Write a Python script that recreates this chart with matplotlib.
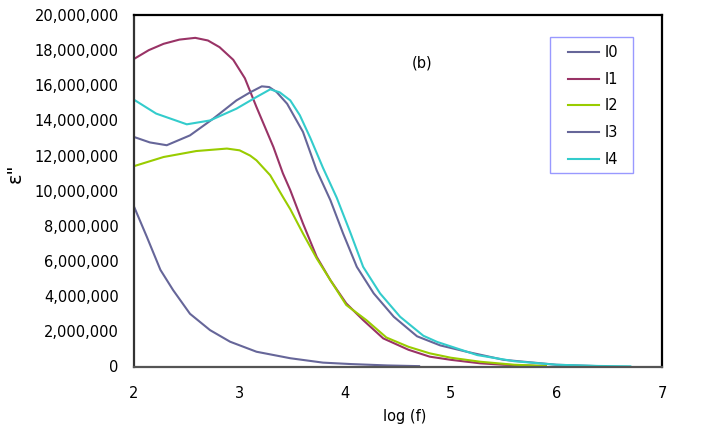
import matplotlib
matplotlib.use("Agg")
import matplotlib.pyplot as plt
from matplotlib.patches import Rectangle
from matplotlib.ticker import FuncFormatter

plt.rcParams['font.family'] = ['DejaVu Sans']

# values, y in millions
x_l0 = [2.0, 2.12, 2.25, 2.37, 2.53, 2.72, 2.91, 3.16, 3.48, 3.79, 4.05, 4.4, 4.7]
y_l0 = [9.1, 7.4, 5.5, 4.35, 3.0, 2.07, 1.41, 0.84, 0.47, 0.22, 0.14, 0.06, 0.02]

x_l1 = [2.0, 2.14, 2.28, 2.43, 2.58, 2.7, 2.81, 2.94, 3.05, 3.16, 3.32, 3.41, 3.48, 3.6,
        3.73, 3.86, 4.01, 4.17, 4.36, 4.6, 4.8, 5.0, 5.28, 5.5, 5.9]
y_l1 = [17.5, 18.0, 18.36, 18.6, 18.7, 18.55, 18.17, 17.45, 16.4, 14.76, 12.49, 10.99, 10.03, 8.14,
        6.24, 4.91, 3.59, 2.64, 1.6, 0.95, 0.56, 0.38, 0.18, 0.1, 0.02]

x_l2 = [2.0, 2.28, 2.59, 2.88, 3.0, 3.1, 3.16, 3.29, 3.41, 3.48, 3.6, 3.73, 3.86, 4.01, 4.2,
        4.39, 4.6, 4.8, 5.0, 5.28, 5.6, 5.9]
y_l2 = [11.4, 11.92, 12.26, 12.4, 12.3, 12.0, 11.73, 10.88, 9.65, 8.95, 7.57, 6.15, 4.91, 3.5, 2.64,
        1.65, 1.12, 0.75, 0.5, 0.27, 0.1, 0.03]

x_l3 = [2.0, 2.15, 2.31, 2.53, 2.75, 2.97, 3.1, 3.21, 3.28, 3.35, 3.45, 3.6, 3.73,
        3.86, 3.98, 4.11, 4.27, 4.46, 4.68, 4.9, 5.15, 5.5, 6.0, 6.4]
y_l3 = [13.06, 12.75, 12.59, 13.15, 14.1, 15.14, 15.6, 15.94, 15.9, 15.62, 14.95, 13.35, 11.16,
        9.46, 7.57, 5.67, 4.16, 2.83, 1.72, 1.2, 0.84, 0.38, 0.1, 0.02]

x_l4 = [2.0, 2.21, 2.5, 2.72, 2.97, 3.15, 3.29, 3.38, 3.48, 3.57, 3.67, 3.79, 3.92,
        4.05, 4.17, 4.33, 4.52, 4.74, 4.87, 5.25, 5.6, 6.0, 6.4, 6.7]
y_l4 = [15.18, 14.39, 13.78, 14.0, 14.67, 15.3, 15.77, 15.6, 15.14, 14.3, 13.0, 11.3, 9.6,
        7.6, 5.67, 4.16, 2.83, 1.75, 1.4, 0.65, 0.3, 0.1, 0.03, 0.01]

series = [
    ('I0', x_l0, y_l0, '#666699'),
    ('I1', x_l1, y_l1, '#993366'),
    ('I2', x_l2, y_l2, '#99CC00'),
    ('I3', x_l3, y_l3, '#666699'),
    ('I4', x_l4, y_l4, '#33CCCC'),
]

W, H = 703, 442
fig = plt.figure(figsize=(W / 100, H / 100), dpi=100)
ax = fig.add_axes([134 / W, 1 - 366.5 / H, 528 / W, 351.5 / H])

for name, xs, ys, col in series:
    ax.plot(xs, [v * 1e6 for v in ys], color=col, lw=1.5, label=name)

ax.set_xlim(2, 7)
ax.set_ylim(0, 20e6)
ax.set_xticks([2, 3, 4, 5, 6, 7])
ax.set_yticks([i * 2e6 for i in range(11)])
ax.yaxis.set_major_formatter(FuncFormatter(lambda v, p: f'{v:,.0f}'))
ax.tick_params(axis='both', length=0, labelsize=10.5)
ax.tick_params(axis='y', pad=11)
ax.tick_params(axis='x', pad=14)
for s in ax.spines.values():
    s.set_linewidth(1.6)
    s.set_color('black')
ax.spines['bottom'].set_color('#555555')
ax.spines['left'].set_color('#333333')

ax.text(0.545, 0.863, '(b)', transform=ax.transAxes, ha='center', va='center', fontsize=10.5)

fig.text(405 / W, 1 - 417 / H, 'log (f)', ha='center', va='center', fontsize=10.5)
fig.text(15 / W, 1 - 173 / H, 'ε"', ha='center', va='center', rotation=90, fontsize=14)

# legend box drawn by hand, entries without frame
fig.patches.append(Rectangle((550 / W, 1 - 172.7 / H), 83 / W, 136 / H,
                             transform=fig.transFigure, fill=False,
                             edgecolor='#9999FF', lw=1.0))
leg = ax.legend(loc='upper left', bbox_to_anchor=(568 / W, 1 - 45 / H),
                bbox_transform=fig.transFigure, frameon=False,
                fontsize=10.5, handlelength=2.12, handletextpad=0.4,
                labelspacing=0.8, borderpad=0, borderaxespad=0)

fig.savefig('out.png', dpi=100)
